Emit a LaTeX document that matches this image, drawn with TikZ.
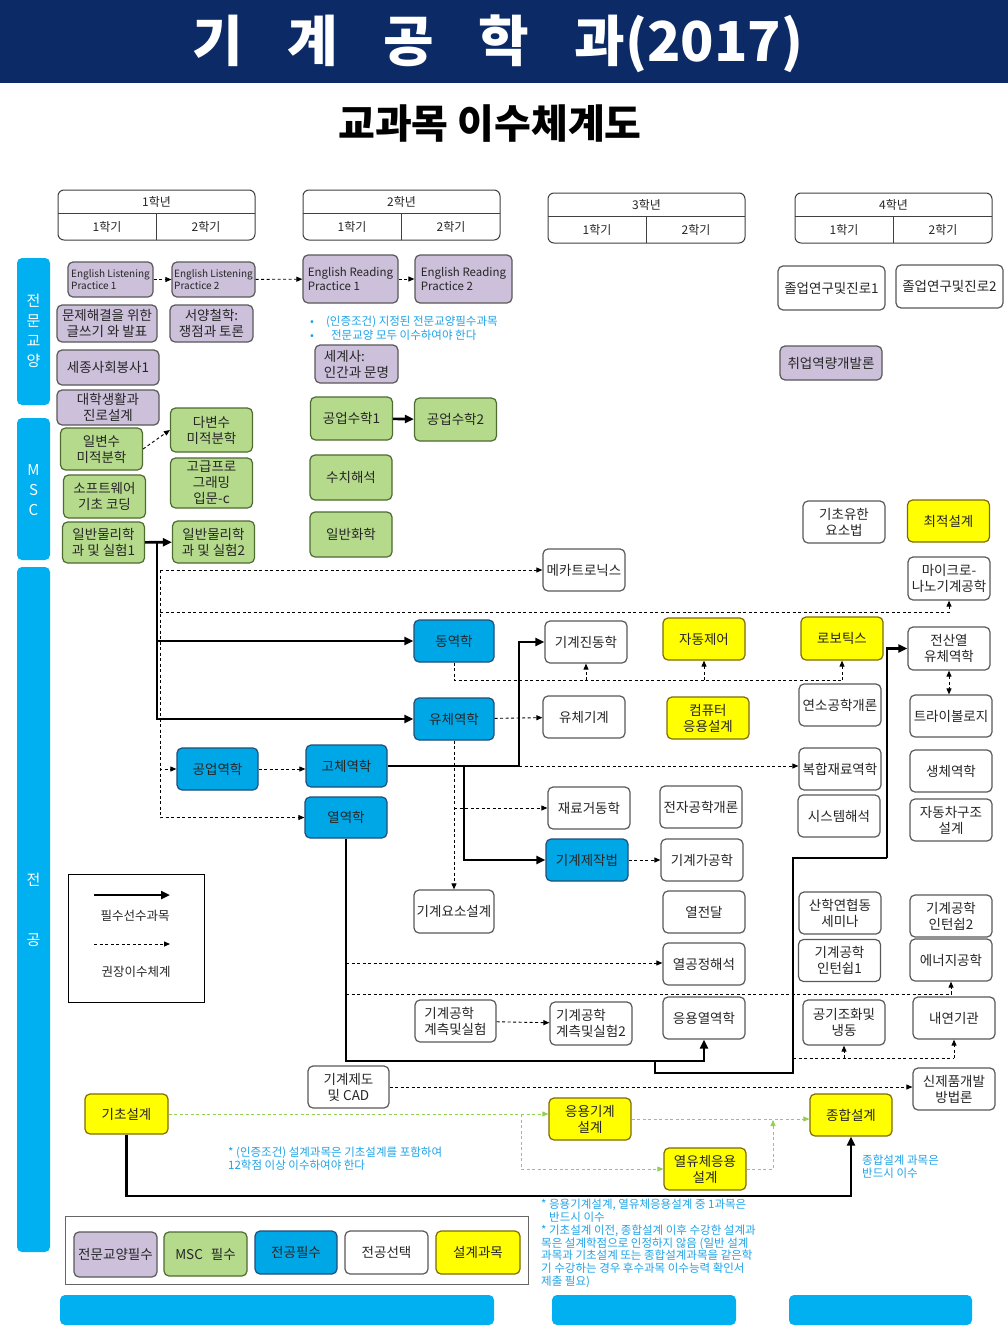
\documentclass[tikz,border=0pt]{standalone}
\usepackage{fontspec}
\setmainfont{Noto Sans CJK KR}
\usetikzlibrary{arrows.meta}
\definecolor{navy}{HTML}{0C2A66}
\definecolor{sky}{HTML}{00B0F0}
\definecolor{purpf}{HTML}{CCC0DA}
\definecolor{grnf}{HTML}{B5DA8C}
\definecolor{grnb}{HTML}{4E6B30}
\definecolor{bluf}{HTML}{00A7E6}
\definecolor{blub}{HTML}{1F4E79}
\definecolor{yelf}{HTML}{FFFF00}
\definecolor{yelb}{HTML}{7F6A00}
\definecolor{bord}{HTML}{595959}
\definecolor{notec}{HTML}{1FA3E8}
\definecolor{lgrn}{HTML}{92D050}
\begin{document}
\begin{tikzpicture}[x=1pt,y=-1pt,
  boxbase/.style={rounded corners=5pt, line width=1.2pt, align=center, inner sep=1pt,
     minimum width=82pt, minimum height=42pt, text=black!85,
     font=\fontsize{13.5}{16}\selectfont},
  pnode/.style={boxbase, fill=purpf, draw=bord},
  gnode/.style={boxbase, fill=grnf, draw=grnb},
  bnode/.style={boxbase, fill=bluf, draw=blub},
  wnode/.style={boxbase, fill=white, draw=bord},
  ynode/.style={boxbase, fill=yelf, draw=yelb},
  req/.style={line width=2.6pt, -{Triangle[length=9pt,width=8pt]}},
  reqline/.style={line width=2.6pt},
  rec/.style={line width=0.9pt, dash pattern=on 3pt off 2.5pt, -{Triangle[length=6pt,width=5pt]}},
  recline/.style={line width=0.9pt, dash pattern=on 3pt off 2.5pt},
  grec/.style={line width=0.9pt, draw=lgrn, dash pattern=on 3pt off 2.5pt, -{Triangle[length=6pt,width=5pt]}},
  grecline/.style={line width=0.9pt, draw=lgrn, dash pattern=on 3pt off 2.5pt},
  ytxt/.style={font=\fontsize{12}{14}\selectfont, text=black!85},
  sidetxt/.style={text=white, align=center, font=\fontsize{15}{20}\selectfont},
  notetxt/.style={text=notec, align=left, font=\fontsize{11.5}{12.8}\selectfont, inner sep=0pt},
  engl/.style={align=left, font=\fontsize{10}{12.5}\selectfont},
  engr/.style={align=left, font=\fontsize{11.5}{14}\selectfont}
]
\useasboundingbox (0,0) rectangle (1008,1344);
\fill[white] (0,0) rectangle (1008,1344);
% header
\fill[navy] (0,0) rectangle (1008,83);
\node[anchor=west, text=white, inner sep=0pt, font=\fontsize{55}{60}\selectfont\bfseries] (title) at (192,44)
  {기\hspace{45pt}계\hspace{45pt}공\hspace{45pt}학\hspace{45pt}과(2017)};
\node[font=\fontsize{40}{44}\selectfont\bfseries] (sub) at (490,124) {교과목 이수체계도};

% year tables
\foreach \xa/\ya/\lab/\nm in {58/190/1/ya,303/190/2/yb,548/193/3/yc,795/193/4/yd}{
  \draw[line width=1pt, draw=black!75, rounded corners=6pt] (\xa,\ya) rectangle ++(197,50);
  \draw[line width=1pt, draw=black!75] (\xa,\ya+23) -- ++(197,0);
  \draw[line width=0.8pt, draw=black!75] (\xa+98,\ya+23) -- ++(0,27);
  \node[ytxt] (\nm h) at (\xa+98.5,\ya+11.5) {\lab 학년};
  \node[ytxt] (\nm a) at (\xa+49,\ya+37) {1학기};
  \node[ytxt] (\nm b) at (\xa+148,\ya+37) {2학기};
}

% side bars
\fill[sky, rounded corners=5pt] (17,258) rectangle (50,405);
\fill[sky, rounded corners=5pt] (17,418) rectangle (50,560);
\fill[sky, rounded corners=5pt] (17,567) rectangle (50,1252);
\node[sidetxt] (s1) at (33.5,331) {전\\문\\교\\양};
\node[sidetxt] (s2) at (33.5,490) {M\\S\\C};
\node[sidetxt] (s3) at (33.5,880) {전};
\node[sidetxt] (s4) at (33.5,940) {공};

% bottom bars
\fill[sky, rounded corners=5pt] (60,1295) rectangle (494,1325);
\fill[sky, rounded corners=5pt] (552,1295) rectangle (736,1325);
\fill[sky, rounded corners=5pt] (789,1295) rectangle (972,1325);

% purple nodes
\node[pnode, engl, minimum width=85pt, minimum height=35pt] (el1) at (110.5,279.5) {English Listening\\Practice 1};
\node[pnode, engl, minimum width=83pt, minimum height=35pt] (el2) at (213.5,279.5) {English Listening\\Practice 2};
\node[pnode, engr, minimum width=95pt, minimum height=48pt] (er1) at (350.5,279) {English Reading\\Practice 1};
\node[pnode, engr, minimum width=97pt, minimum height=48pt] (er2) at (463.5,279) {English Reading\\Practice 2};
\node[pnode, minimum width=100pt, minimum height=37pt] (ps) at (107,323.5) {문제해결을 위한\\글쓰기 와 발표};
\node[pnode, minimum width=83pt, minimum height=37pt] (phil) at (211.5,323.5) {서양철학:\\쟁점과 토론};
\node[pnode, minimum width=102pt, minimum height=35pt] (serv) at (108,367.5) {세종사회봉사1};
\node[pnode, minimum width=102pt, minimum height=35pt] (life) at (108,407.5) {대학생활과\\진로설계};
\node[pnode, align=left, minimum width=83pt, minimum height=38pt] (hist) at (356.5,364) {세계사:\\인간과 문명};
\node[pnode, minimum width=102pt, minimum height=34pt] (job) at (831,363) {취업역량개발론};
\node[wnode, minimum width=107pt, minimum height=44pt] (grad1) at (831.5,288) {졸업연구및진로1};
\node[wnode, minimum width=107pt, minimum height=43pt] (grad2) at (949.5,286.5) {졸업연구및진로2};

\node[notetxt, anchor=west] (n1a) at (310,322) {•\hspace{12pt}(인증조건) 지정된 전문교양필수과목};
\node[notetxt, anchor=west] (n1b) at (310,335) {•\hspace{17pt}전문교양 모두 이수하여야 한다};

% green nodes
\node[gnode, minimum height=42pt] (calc1) at (101.5,449) {일변수\\미적분학};
\node[gnode, minimum height=44pt] (calc2) at (211.5,430) {다변수\\미적분학};
\node[gnode, minimum height=43pt] (sw) at (104.5,496.5) {소프트웨어\\기초 코딩};
\node[gnode, minimum height=50pt] (prog) at (211.5,483) {고급프로\\그래밍\\입문-c};
\node[gnode, minimum height=41pt] (phys1) at (103.5,542.5) {일반물리학\\과 및 실험1};
\node[gnode, minimum height=42pt] (phys2) at (213.5,542) {일반물리학\\과 및 실험2};
\node[gnode, minimum height=43pt] (em1) at (351.5,418.5) {공업수학1};
\node[gnode, minimum height=43pt] (em2) at (455.5,419.5) {공업수학2};
\node[gnode, minimum height=45pt] (num) at (351,477.5) {수치해석};
\node[gnode, minimum height=45pt] (chem) at (351,534.5) {일반화학};

% blue nodes
\node[bnode, minimum width=80pt] (dyn) at (454,641) {동역학};
\node[bnode, minimum width=80pt] (flu) at (454,719) {유체역학};
\node[bnode, minimum width=81pt] (stat) at (217.5,769) {공업역학};
\node[bnode, minimum width=81pt] (solid) at (346.5,766) {고체역학};
\node[bnode, minimum height=41pt] (thermo) at (346,817.5) {열역학};
\node[bnode] (manu) at (587,860) {기계제작법};

% white (elective) nodes
\node[wnode] (mecha) at (584,570) {메카트로닉스};
\node[wnode] (vib) at (586,642) {기계진동학};
\node[wnode] (fmach) at (584,717) {유체기계};
\node[wnode] (matb) at (589,808) {재료거동학};
\node[wnode] (elec) at (701,807) {전자공학개론};
\node[wnode] (mach) at (702,860) {기계가공학};
\node[wnode, minimum width=80pt, minimum height=43pt] (elem) at (454,911.5) {기계요소설계};
\node[wnode] (heat) at (704,912) {열전달};
\node[wnode] (thp) at (704,964) {열공정해석};
\node[wnode, align=left, minimum width=81pt] (meas1) at (455.5,1021) {기계공학\\계측및실험};
\node[wnode, align=left, minimum height=43pt] (meas2) at (591,1023.5) {기계공학\\계측및실험2};
\node[wnode] (athermo) at (704,1018) {응용열역학};
\node[wnode, minimum width=81pt] (cad) at (348.5,1087) {기계제도\\및 CAD};
\node[wnode] (fem) at (844,522) {기초유한\\요소법};
\node[wnode] (comb) at (840,705) {연소공학개론};
\node[wnode] (comp) at (840,769) {복합재료역학};
\node[wnode] (sys) at (839,816) {시스템해석};
\node[wnode] (sem) at (840,913) {산학연협동\\세미나};
\node[wnode] (int1) at (839.5,960.5) {기계공학\\인턴쉽1};
\node[wnode, minimum height=45pt] (hvac) at (844,1022.5) {공기조화및\\냉동};
\node[wnode, minimum height=43pt] (micro) at (949,578.5) {마이크로-\\나노기계공학};
\node[wnode, minimum height=43pt] (cfd) at (949,648.5) {전산열\\유체역학};
\node[wnode] (tri) at (951,716) {트라이볼로지};
\node[wnode] (bio) at (951,771) {생체역학};
\node[wnode] (car) at (951,820) {자동차구조\\설계};
\node[wnode] (int2) at (951,916) {기계공학\\인턴쉽2};
\node[wnode] (energy) at (951,960) {에너지공학};
\node[wnode] (ice) at (954,1018) {내연기관};
\node[wnode] (npd) at (954,1089) {신제품개발\\방법론};

% yellow nodes
\node[ynode] (opt) at (948.5,521) {최적설계};
\node[ynode] (ctrl) at (704,639) {자동제어};
\node[ynode] (capp) at (708,718) {컴퓨터\\응용설계};
\node[ynode, minimum height=43pt] (robot) at (842,638.5) {로보틱스};
\node[ynode, minimum width=83pt, minimum height=40pt] (bd) at (126.5,1114) {기초설계};
\node[ynode] (amd) at (590,1119) {응용기계\\설계};
\node[ynode] (tfd) at (705,1169) {열유체응용\\설계};
\node[ynode] (cap) at (851,1115) {종합설계};

% notes
\node[notetxt, anchor=north west] (n2) at (228,1147) {* (인증조건) 설계과목은 기초설계를 포함하여\\12학점 이상 이수하여야 한다};
\node[notetxt, anchor=north west] (n3) at (862,1155) {종합설계 과목은\\반드시 이수};
\node[notetxt, anchor=north west] (n4) at (541,1199) {* 응용기계설계, 열유체응용설계 중 1과목은\\\hspace{8pt}반드시 이수\\* 기초설계 이전, 종합설계 이후 수강한 설계과\\목은 설계학점으로 인정하지 않음 (일반 설계\\과목과 기초설계 또는 종합설계과목을 같은학\\기 수강하는 경우 후수과목 이수능력 확인서\\제출 필요)};

% ---- connectors ----
\draw[rec] (el1) -- (el2);
\draw[rec] (el2) -- (er1);
\draw[rec] (er1) -- (er2);
\draw[rec] (calc1.east) -- (calc2.west);
\draw[req] (em1) -- (em2);
\draw[req] (phys1) -- (phys2);

\coordinate (j1) at (157,542.5);
\draw[req] (j1) |- (dyn.west);
\draw[req] (j1) |- (flu.west);

\coordinate (d1) at (160,570);
\coordinate (d2) at (160,612);
\draw[rec] (d1) |- (thermo.west);
\draw[rec] (d1) |- (stat.west);
\draw[rec] (d1) -- (mecha.west);
\draw[rec] (d2) -| (micro.south);
\draw[rec] (stat.east) -- (stat.east -| solid.west);

\coordinate (d3) at (454,680);
\coordinate (d3e) at (842,680);
\draw[recline] (dyn.south) -- (d3) -- (d3e);
\draw[rec] (d3 -| vib.south) -- (vib.south);
\draw[rec] (d3 -| ctrl.south) -- (ctrl.south);
\draw[rec] (d3e) -- (robot.south);

\draw[rec] (flu) -- (fmach);
\draw[rec] (flu.south) -- (elem.north);
\draw[rec] (flu.south |- matb.west) -- (matb.west);

\coordinate (t1) at (519,766);
\coordinate (t2) at (464,766);
\draw[reqline] (solid.east) -- (t1);
\draw[req] (t1) |- (vib.west);
\draw[req] (t2) |- (manu.west);
\draw[rec] (t1) -- (t1 -| comp.west);
\draw[rec] (manu) -- (mach);

\coordinate (t3) at (346,1061);
\coordinate (t4) at (655,1061);
\coordinate (t5) at (655,1073);
\coordinate (t6) at (793,1073);
\coordinate (t7) at (793,858);
\coordinate (t8) at (887,858);
\draw[req] (thermo.south) -- (t3) -| (athermo.south);
\draw[reqline] (t4) -- (t5) -- (t6) -- (t7) -- (t8);
\draw[req] (t8) |- (cfd.west);
\draw[rec, {Triangle[length=6pt,width=5pt]}-{Triangle[length=6pt,width=5pt]}] (cfd.south) -- (cfd.south |- tri.north);

\coordinate (d5) at (346,963);
\coordinate (d6) at (346,994);
\draw[rec] (d5) -- (d5 -| thp.west);
\draw[rec] (d6) -| (energy.south);
\coordinate (d7) at (793,1058);
\coordinate (d8) at (954,1058);
\draw[recline] (d7) -- (d8);
\draw[rec] (d7 -| hvac.south) -- (hvac.south);
\draw[rec] (d8) -- (ice.south);
\draw[rec] (meas1) -- (meas2);
\draw[rec] (cad.east) -- (cad.east -| npd.west);

\coordinate (g1) at (521,1114);
\coordinate (g2) at (773,1169);
\coordinate (g3) at (773,1120);
\draw[grecline] (bd.east) -- (g1);
\draw[grec] (g1) -- (g1 -| amd.west);
\draw[grec] (g1) |- (tfd.west);
\draw[grec] (amd.east) -- (amd.east -| cap.west);
\draw[grec] (tfd.east) -- (g2) -- (g3);

\coordinate (t9) at (126.5,1196);
\draw[req] (bd.south) -- (t9) -| (cap.south);

% legend 1
\node[draw, line width=1pt, minimum width=136pt, minimum height=128pt, inner sep=0pt] (leg1) at (136,938) {};
\coordinate (la1) at (94,895);
\coordinate (la2) at (170,895);
\coordinate (lb1) at (94,944);
\coordinate (lb2) at (170,944);
\draw[req] (la1) -- (la2);
\draw[rec] (lb1) -- (lb2);
\node[font=\fontsize{12.5}{14}\selectfont, text=black!85] (lt1) at (135,916) {필수선수과목};
\node[font=\fontsize{12.5}{14}\selectfont, text=black!85] (lt2) at (136,972) {권장이수체계};

% legend 2
\node[draw=black!60, line width=1pt, minimum width=463pt, minimum height=68pt, inner sep=0pt] (leg2) at (296.5,1250) {};
\node[pnode, minimum width=83pt, minimum height=45pt] (lg1) at (115.5,1254.5) {전문교양필수};
\node[gnode, minimum width=83pt, minimum height=44pt] (lg2) at (205.5,1254) {MSC\hspace{8pt}필수};
\node[bnode, minimum width=82pt, minimum height=43pt] (lg3) at (296,1252.5) {전공필수};
\node[wnode, minimum width=83pt, minimum height=43pt] (lg4) at (386.5,1252.5) {전공선택};
\node[ynode, minimum width=84pt, minimum height=43pt] (lg5) at (478,1252.5) {설계과목};
\end{tikzpicture}
\end{document}
